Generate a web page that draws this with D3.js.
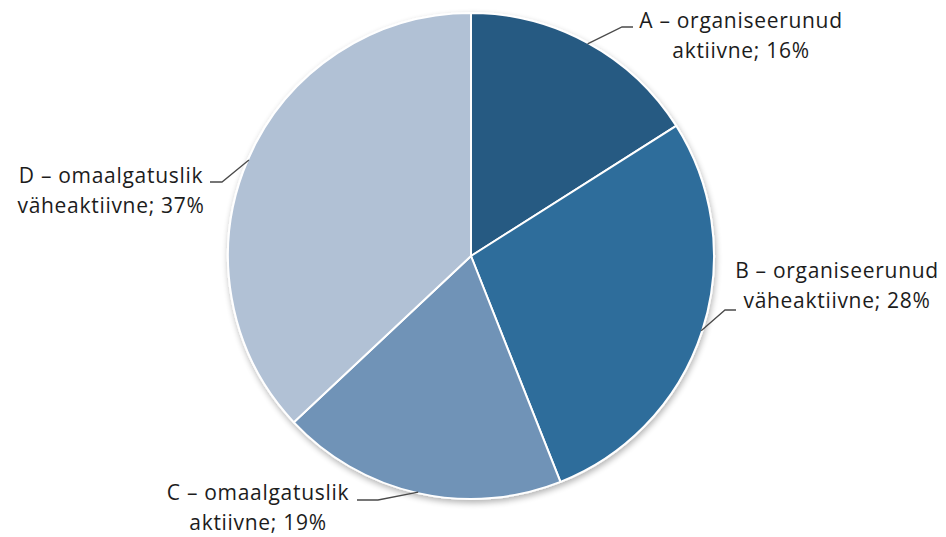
<!DOCTYPE html>
<html>
<head>
<meta charset="utf-8">
<script src="https://cdn.jsdelivr.net/npm/d3@7"></script>
<style>
  body { margin: 0; background: #fff; }
  text { font-family: "Open Sans", "Noto Sans", sans-serif; fill: #1c1c1c; }
</style>
</head>
<body>
<div id="chart"></div>
<script>
const categories = ["A", "B", "C", "D"];
const labelLine1 = ["A – organiseerunud", "B – organiseerunud", "C – omaalgatuslik", "D – omaalgatuslik"];
const labelLine2 = ["aktiivne; 16%", "väheaktiivne; 28%", "aktiivne; 19%", "väheaktiivne; 37%"];
const values = [16, 28, 19, 37];
const colors = ["#285a82", "#2f6d9b", "#7093b7", "#b1c1d5"];

// label centre x and first baseline, leader elbow points (layout)
const labelPos = [[741, 28], [837, 278], [258, 500], [111, 183]];
const elbow = [[[622, 27], [633, 27]], [[725, 310], [736, 310]], [[378, 500], [357, 500]], [[222, 182], [210, 182]]];

const width = 946, height = 537;
const cx = 471, cy = 256, radius = 243;

const svg = d3.select("#chart").append("svg")
  .attr("width", width)
  .attr("height", height);

const defs = svg.append("defs");
const filter = defs.append("filter").attr("id", "shadow")
  .attr("x", "-10%").attr("y", "-10%").attr("width", "120%").attr("height", "120%");
filter.append("feGaussianBlur").attr("in", "SourceAlpha").attr("stdDeviation", 3);
filter.append("feOffset").attr("dx", 1).attr("dy", 3).attr("result", "b");
filter.append("feComponentTransfer").append("feFuncA").attr("type", "linear").attr("slope", 0.3);
const merge = filter.append("feMerge");
merge.append("feMergeNode");
merge.append("feMergeNode").attr("in", "SourceGraphic");

const color = d3.scaleOrdinal().domain(categories).range(colors);

const pie = d3.pie().sort(null).value(d => d.value);
const arc = d3.arc().innerRadius(0).outerRadius(radius);

const data = categories.map((c, i) => ({ cat: c, value: values[i], i: i }));
const arcs = pie(data);

const g = svg.append("g")
  .attr("transform", `translate(${cx}, ${cy})`);

g.append("g").attr("filter", "url(#shadow)")
  .selectAll("path")
  .data(arcs)
  .enter()
  .append("path")
  .attr("d", arc)
  .attr("fill", d => color(d.data.cat))
  .attr("stroke", "#fff")
  .attr("stroke-width", 2)
  .attr("stroke-linejoin", "round");

// leader lines: from the arc edge at the slice's mid angle to the elbow, then a short horizontal
svg.append("g")
  .selectAll("polyline")
  .data(arcs)
  .enter()
  .append("polyline")
  .attr("fill", "none")
  .attr("stroke", "#4a4a4a")
  .attr("stroke-width", 1.3)
  .attr("points", d => {
    const i = d.data.i;
    const mid = (d.startAngle + d.endAngle) / 2;
    const p = [cx + Math.sin(mid) * (radius - 1), cy - Math.cos(mid) * (radius - 1)];
    return [p, elbow[i][0], elbow[i][1]].map(q => q.join(",")).join(" ");
  });

const labels = svg.append("g")
  .selectAll("text")
  .data(arcs)
  .enter()
  .append("text")
  .attr("text-anchor", "middle")
  .attr("font-size", 21)
  .attr("letter-spacing", 0.7)
  .attr("x", d => labelPos[d.data.i][0])
  .attr("y", d => labelPos[d.data.i][1]);

labels.append("tspan")
  .text(d => labelLine1[d.data.i]);
labels.append("tspan")
  .attr("x", d => labelPos[d.data.i][0])
  .attr("dy", 30)
  .text(d => labelLine2[d.data.i]);
</script>
</body>
</html>
